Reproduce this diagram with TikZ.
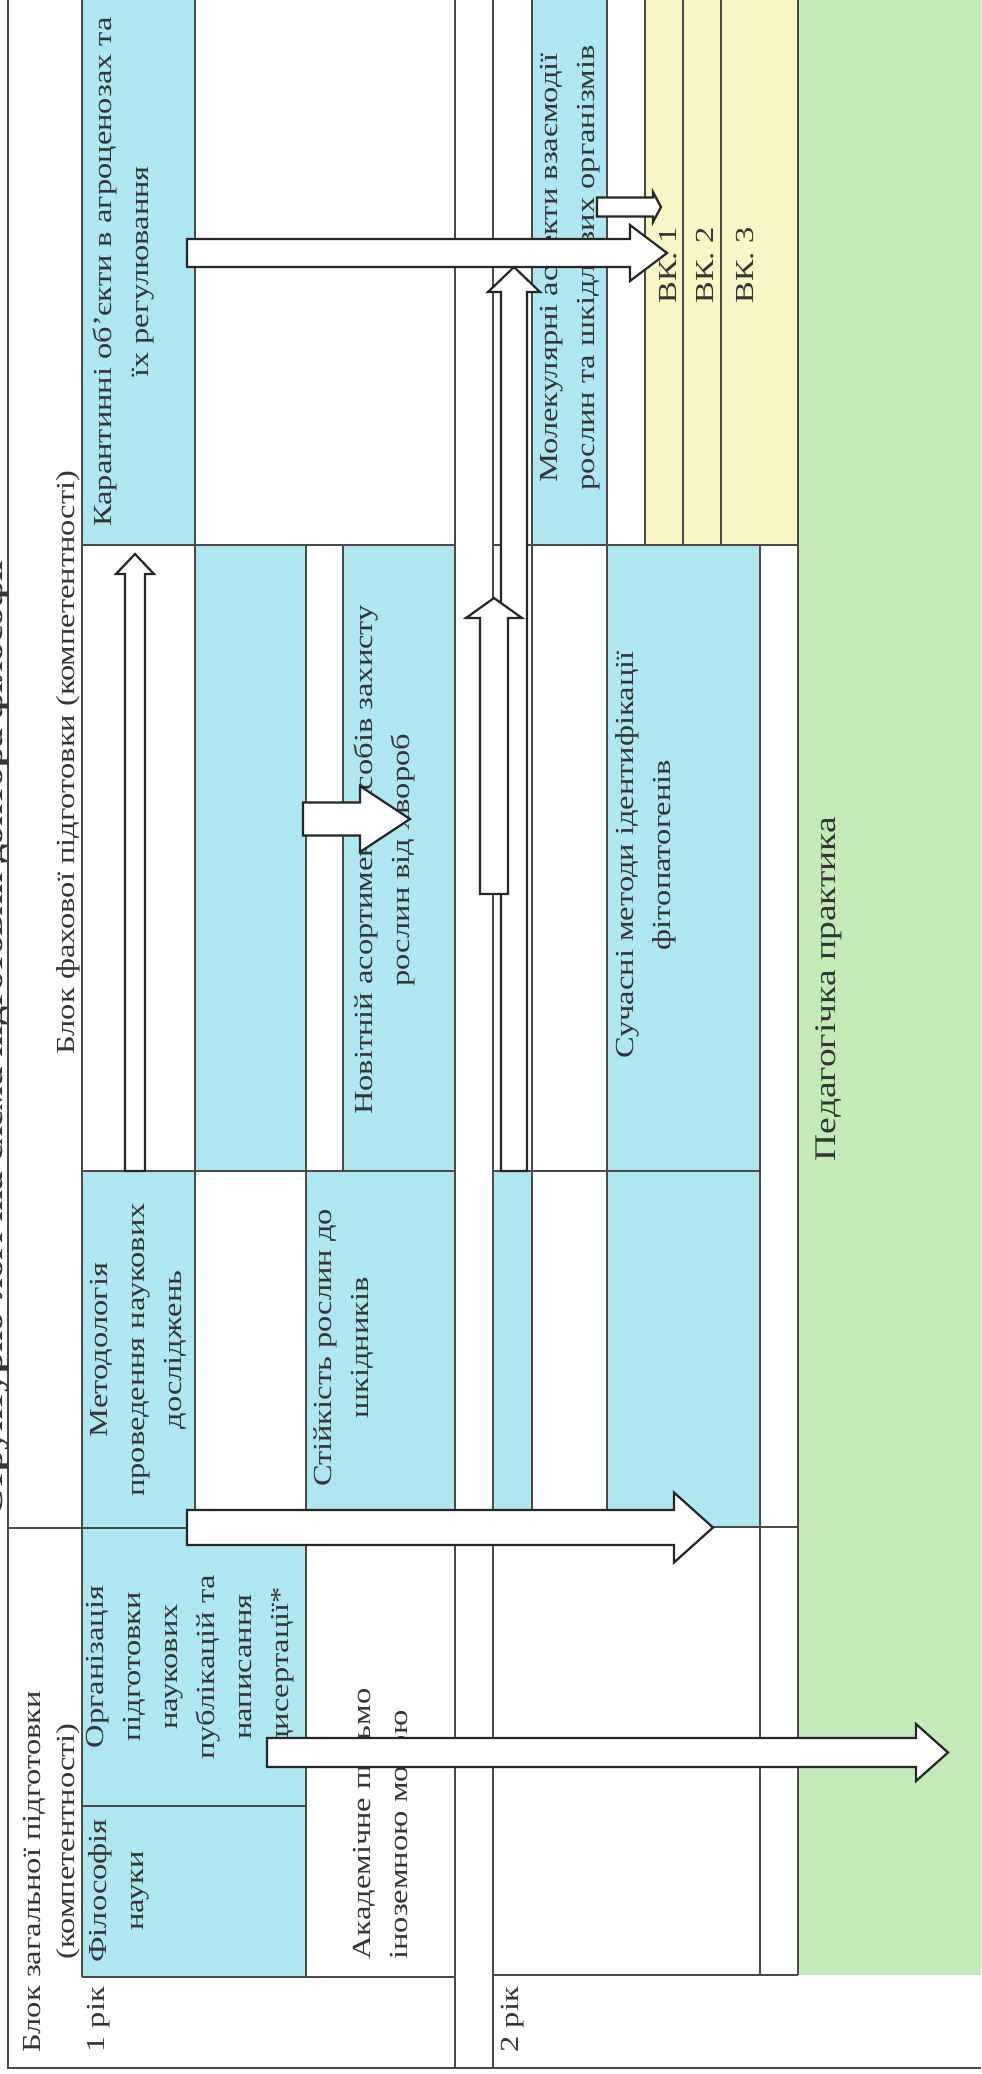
\documentclass[tikz,border=0pt]{standalone}
\usepackage{fontspec}
\setmainfont{Liberation Serif}
\definecolor{cblue}{HTML}{AEE7EF}
\definecolor{cyel}{HTML}{F7F6C4}
\definecolor{cgreen}{HTML}{C4EAB7}
\definecolor{cline}{HTML}{4A4A4A}
\definecolor{ctext}{HTML}{353535}
\newcommand{\blkH}[6]{\draw[blk] (#1,#4-#5) -- (#2,#4-#5) -- (#2,#4-#6) -- (#3,#4) -- (#2,#4+#6) -- (#2,#4+#5) -- (#1,#4+#5) -- cycle;}
\newcommand{\blkV}[6]{\draw[blk] (#1-#5,#2) -- (#1-#5,#3) -- (#1-#6,#3) -- (#1,#4) -- (#1+#6,#3) -- (#1+#5,#3) -- (#1+#5,#2) -- cycle;}
\begin{document}
\begin{tikzpicture}[x=0.5pt,y=-0.5pt,
  grid/.style={draw=cline,line width=0.6pt},
  txt/.style={rotate=90,xscale=1.25,inner sep=0pt,text=ctext,font=\fontsize{13}{18.5}\selectfont},
  ctxt/.style={txt,align=center,anchor=north},
  ltxt/.style={txt,align=left,anchor=north west},
  lab/.style={txt,anchor=base west},
  blk/.style={draw=black!85,line width=1.1pt,fill=white,line join=miter}
]
\useasboundingbox (0,0) rectangle (981,2074);
\fill[white] (0,0) rectangle (981,2074);
% fills
\fill[cblue] (82,0) rectangle (195,545);
\fill[cblue] (195,545) rectangle (306,1171);
\fill[cblue] (343,545) rectangle (455,1171);
\fill[cblue] (82,1171) rectangle (195,1528);
\fill[cblue] (306,1171) rectangle (455,1528);
\fill[cblue] (82,1528) rectangle (306,1977);
\fill[cblue] (532,0) rectangle (607,545);
\fill[cblue] (607,545) rectangle (760,1527);
\fill[cblue] (493,1171) rectangle (532,1527);
\fill[cyel] (645,0) rectangle (798,545);
\fill[cgreen] (798,0) rectangle (981,1975);
% grid lines
\draw[grid] (8,0) -- (8,2068) -- (981,2068);
\draw[grid] (82,0) -- (82,1977);
\draw[grid] (195,0) -- (195,1528);
\draw[grid] (306,545) -- (306,1977);
\draw[grid] (343,545) -- (343,1171);
\draw[grid] (455,0) -- (455,2068);
\draw[grid] (493,0) -- (493,2068);
\draw[grid] (532,0) -- (532,1527);
\draw[grid] (607,0) -- (607,1527);
\draw[grid] (645,0) -- (645,545);
\draw[grid] (683,0) -- (683,545);
\draw[grid] (721,0) -- (721,545);
\draw[grid] (760,545) -- (760,1975);
\draw[grid] (798,0) -- (798,1975);
\draw[grid] (82,545) -- (455,545) (493,545) -- (798,545);
\draw[grid] (82,1171) -- (455,1171) (493,1171) -- (760,1171);
\draw[grid] (8,1528) -- (455,1528) (493,1527) -- (798,1527);
\draw[grid] (82,1806) -- (306,1806);
\draw[grid] (82,1977) -- (455,1977) (493,1975) -- (798,1975);
% texts
\node[lab,font=\bfseries\fontsize{15}{18}\selectfont] (title) at (3,1517) {Структурно-логічна схема підготовки доктора філософії};
\node[lab] (bz) at (40,2053) {Блок загальної підготовки};
\node[lab] (bzk) at (75,1960) {(компетентності)};
\node[lab] (bf) at (75,1055) {Блок фахової підготовки (компетентності)};
\node[lab] (r1) at (104,2053) {1 рік};
\node[lab] (r2) at (518,2053) {2 рік};
\node[ctxt] (kar) at (92,272) {Карантинні об’єкти в агроценозах та\\їх регулювання};
\node[ctxt] (met) at (90,1350) {Методологія\\проведення наукових\\досліджень};
\node[ctxt] (org) at (86,1667) {Організація\\підготовки\\наукових\\публікацій та\\написання\\дисертації*};
\node[ctxt] (fil) at (88,1891) {Філософія\\науки};
\node[ctxt] (sti) at (313,1348) {Стійкість рослин до\\шкідників};
\node[ctxt] (nov) at (353,860) {Новітній асортимент засобів захисту\\рослин від хвороб};
\node[ltxt] (akad) at (353,1960) {Академічне письмо\\іноземною мовою};
\node[ctxt] (mol) at (540,268) {Молекулярні аспекти взаємодії\\рослин та шкідливих організмів};
\node[ctxt] (such) at (615,855) {Сучасні методи ідентифікації\\фітопатогенів};
\node[lab] (vk1) at (676,304) {ВК. 1};
\node[lab] (vk2) at (713,304) {ВК. 2};
\node[lab] (vk3) at (753,304) {ВК. 3};
\node[txt,anchor=base,font=\fontsize{15}{18}\selectfont] (ped) at (835,989) {Педагогічка практика};
% block arrows
\blkV{135}{1171}{574}{554}{10}{19}
\blkH{303}{360}{410}{819}{16.5}{33}
\blkV{514}{1171}{292}{267}{13}{26}
\blkV{494}{894}{618}{598}{14}{28}
\blkH{187}{630}{667}{253}{14}{28}
\blkH{597}{653}{661}{207}{9.5}{15}
\blkH{187}{674}{713}{1527.5}{17.5}{35}
\blkH{267}{916}{948}{1752.5}{14.5}{28.5}
\end{tikzpicture}
\end{document}
